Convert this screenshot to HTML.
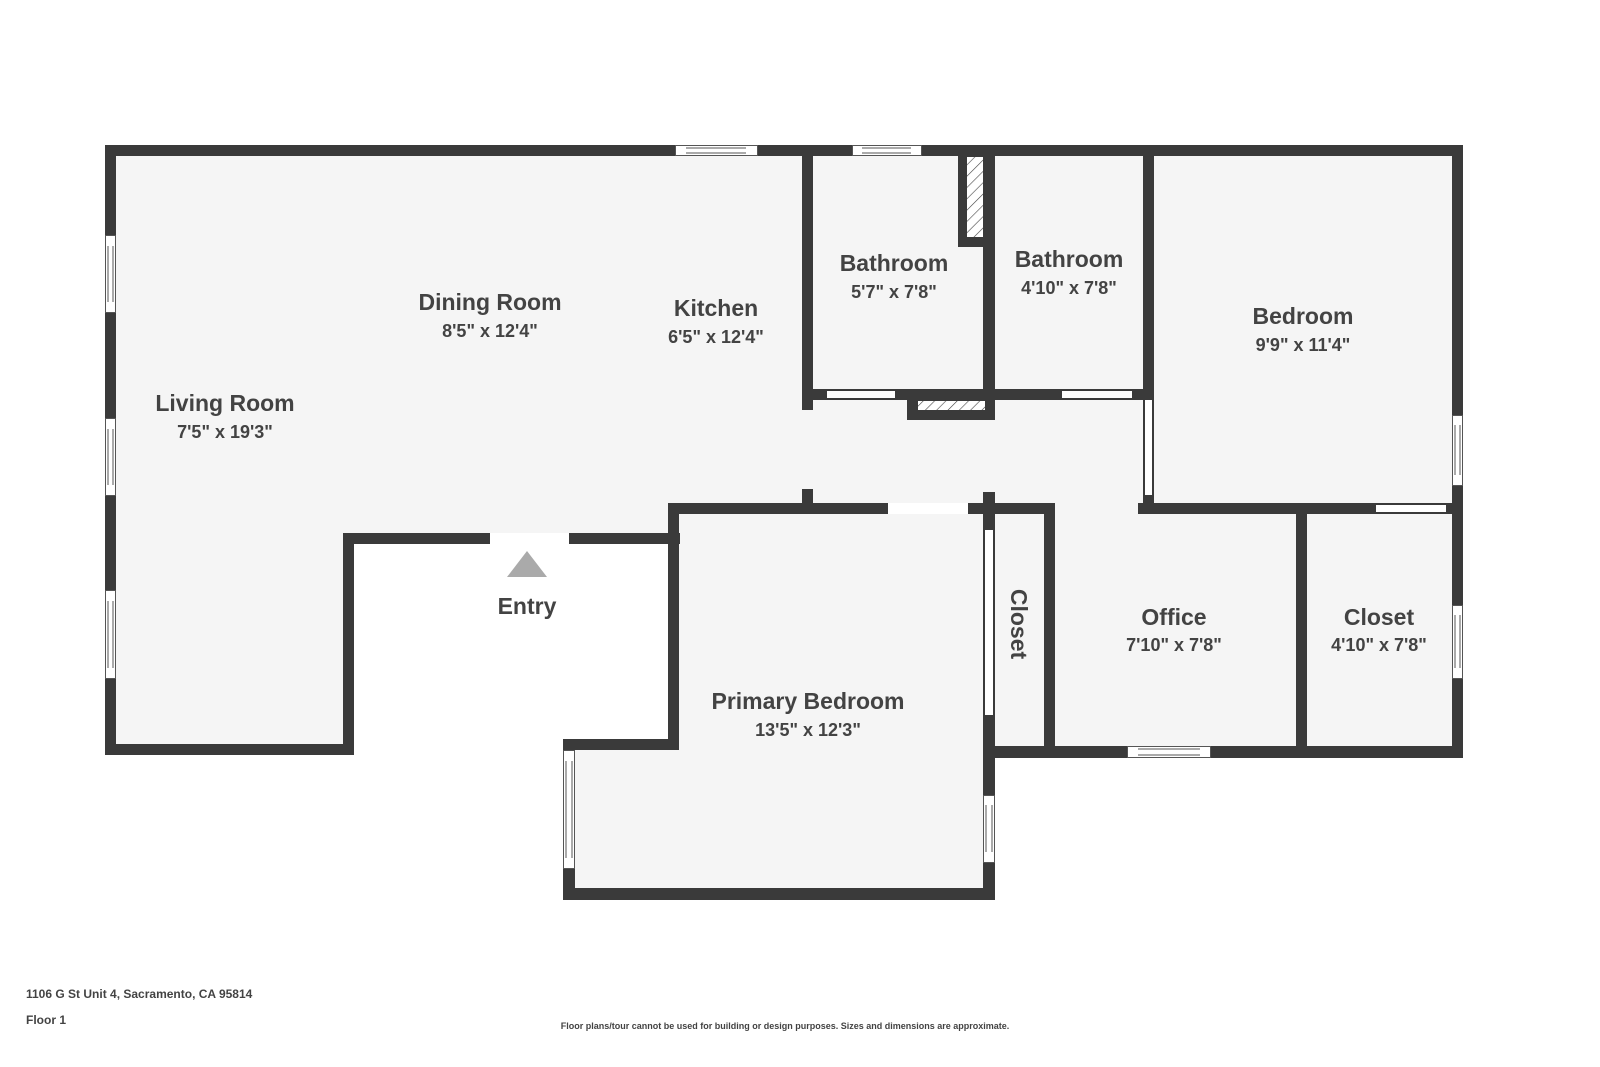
<!DOCTYPE html>
<html><head><meta charset="utf-8"><style>
html,body{margin:0;padding:0;background:#fff;}
svg{display:block;}
text{font-family:"Liberation Sans",sans-serif;font-weight:bold;fill:#434343;}
</style></head><body>
<svg width="1600" height="1067" viewBox="0 0 1600 1067" xmlns="http://www.w3.org/2000/svg">
<defs>
<pattern id="h" width="8" height="8" patternUnits="userSpaceOnUse" patternTransform="rotate(45)">
<rect width="8" height="8" fill="#fff"/><line x1="0" y1="0" x2="0" y2="8" stroke="#444" stroke-width="1.2"/>
</pattern>
</defs>
<polygon points="112,151 1457,151 1457,752 989,752 989,894 569,894 569,745 674,745 674,538 349,538 349,749 112,749" fill="#f5f5f5"/>
<g fill="#3a3a3a">
<rect x="105" y="145" width="1358" height="11"/>
<rect x="105" y="145" width="11" height="610"/>
<rect x="105" y="744" width="249" height="11"/>
<rect x="343" y="533" width="11" height="222"/>
<rect x="343" y="533" width="337" height="11"/>
<rect x="668" y="503" width="11" height="247"/>
<rect x="563" y="739" width="116" height="11"/>
<rect x="563" y="739" width="12" height="161"/>
<rect x="563" y="888" width="432" height="12"/>
<rect x="983" y="503" width="12" height="397"/>
<rect x="668" y="503" width="387" height="11"/>
<rect x="1044" y="503" width="11" height="255"/>
<rect x="983" y="746" width="480" height="12"/>
<rect x="1138" y="503" width="325" height="11"/>
<rect x="1296" y="503" width="11" height="255"/>
<rect x="1452" y="145" width="11" height="613"/>
<rect x="1143" y="145" width="11" height="369"/>
<rect x="802" y="145" width="11" height="265"/>
<rect x="802" y="389" width="352" height="11"/>
<rect x="983" y="145" width="12" height="275"/>
<rect x="958" y="150" width="32" height="97"/>
<rect x="907" y="395" width="88" height="25"/>
<rect x="802" y="489" width="11" height="14"/>
<rect x="983" y="492" width="12" height="11"/>
</g>
<rect x="967" y="157" width="16" height="80" fill="url(#h)"/>
<rect x="918" y="401" width="67" height="9" fill="url(#h)"/>
<g fill="#fff">
<rect x="490" y="533" width="79" height="11"/>
<rect x="888" y="503" width="80" height="11"/>
<rect x="985" y="530" width="8" height="185"/>
<rect x="827" y="391" width="68" height="7"/>
<rect x="1062" y="391" width="70" height="7"/>
<rect x="1145" y="400" width="7" height="95"/>
<rect x="1376" y="505" width="70" height="7"/>
</g>
<g fill="#fff" stroke="#555" stroke-width="1">
<rect x="675.5" y="145.5" width="82" height="10"/><line x1="686" y1="148" x2="746" y2="148"/><line x1="686" y1="153" x2="746" y2="153"/>
<rect x="852.5" y="145.5" width="69" height="10"/><line x1="862" y1="148" x2="911" y2="148"/><line x1="862" y1="153" x2="911" y2="153"/>
<rect x="105.5" y="235.5" width="10" height="77"/><line x1="108" y1="246" x2="108" y2="302"/><line x1="113" y1="246" x2="113" y2="302"/>
<rect x="105.5" y="418.5" width="10" height="77"/><line x1="108" y1="429" x2="108" y2="485"/><line x1="113" y1="429" x2="113" y2="485"/>
<rect x="105.5" y="590.5" width="10" height="88"/><line x1="108" y1="601" x2="108" y2="668"/><line x1="113" y1="601" x2="113" y2="668"/>
<rect x="1452.5" y="415.5" width="10" height="70"/><line x1="1455" y1="425" x2="1455" y2="475"/><line x1="1460" y1="425" x2="1460" y2="475"/>
<rect x="1452.5" y="605.5" width="10" height="73"/><line x1="1455" y1="615" x2="1455" y2="668"/><line x1="1460" y1="615" x2="1460" y2="668"/>
<rect x="1127.5" y="746.5" width="83" height="11"/><line x1="1138" y1="749" x2="1200" y2="749"/><line x1="1138" y1="755" x2="1200" y2="755"/>
<rect x="563.5" y="750.5" width="11" height="118"/><line x1="566" y1="761" x2="566" y2="858"/><line x1="572" y1="761" x2="572" y2="858"/>
<rect x="983.5" y="795.5" width="11" height="67"/><line x1="986" y1="805" x2="986" y2="852"/><line x1="992" y1="805" x2="992" y2="852"/>
</g>
<polygon points="507,577 547,577 527,551" fill="#aaa"/>
<g text-anchor="middle">
<text x="225" y="411" font-size="23">Living Room</text><text x="225" y="438" font-size="18">7'5" x 19'3"</text>
<text x="490" y="310" font-size="23">Dining Room</text><text x="490" y="337" font-size="18">8'5" x 12'4"</text>
<text x="716" y="316" font-size="23">Kitchen</text><text x="716" y="343" font-size="18">6'5" x 12'4"</text>
<text x="894" y="271" font-size="23">Bathroom</text><text x="894" y="298" font-size="18">5'7" x 7'8"</text>
<text x="1069" y="267" font-size="23">Bathroom</text><text x="1069" y="294" font-size="18">4'10" x 7'8"</text>
<text x="1303" y="324" font-size="23">Bedroom</text><text x="1303" y="351" font-size="18">9'9" x 11'4"</text>
<text x="527" y="614" font-size="23">Entry</text>
<text x="808" y="709" font-size="23">Primary Bedroom</text><text x="808" y="736" font-size="18">13'5" x 12'3"</text>
<text x="1174" y="625" font-size="23">Office</text><text x="1174" y="651" font-size="18">7'10" x 7'8"</text>
<text x="1379" y="625" font-size="23">Closet</text><text x="1379" y="651" font-size="18">4'10" x 7'8"</text>
<text x="0" y="0" font-size="23" transform="translate(1011,624) rotate(90)">Closet</text>
<text x="785" y="1029" font-size="9" font-weight="normal">Floor plans/tour cannot be used for building or design purposes. Sizes and dimensions are approximate.</text>
</g>
<text x="26" y="998" font-size="12">1106 G St Unit 4, Sacramento, CA 95814</text>
<text x="26" y="1024" font-size="12">Floor 1</text>
</svg>
</body></html>
